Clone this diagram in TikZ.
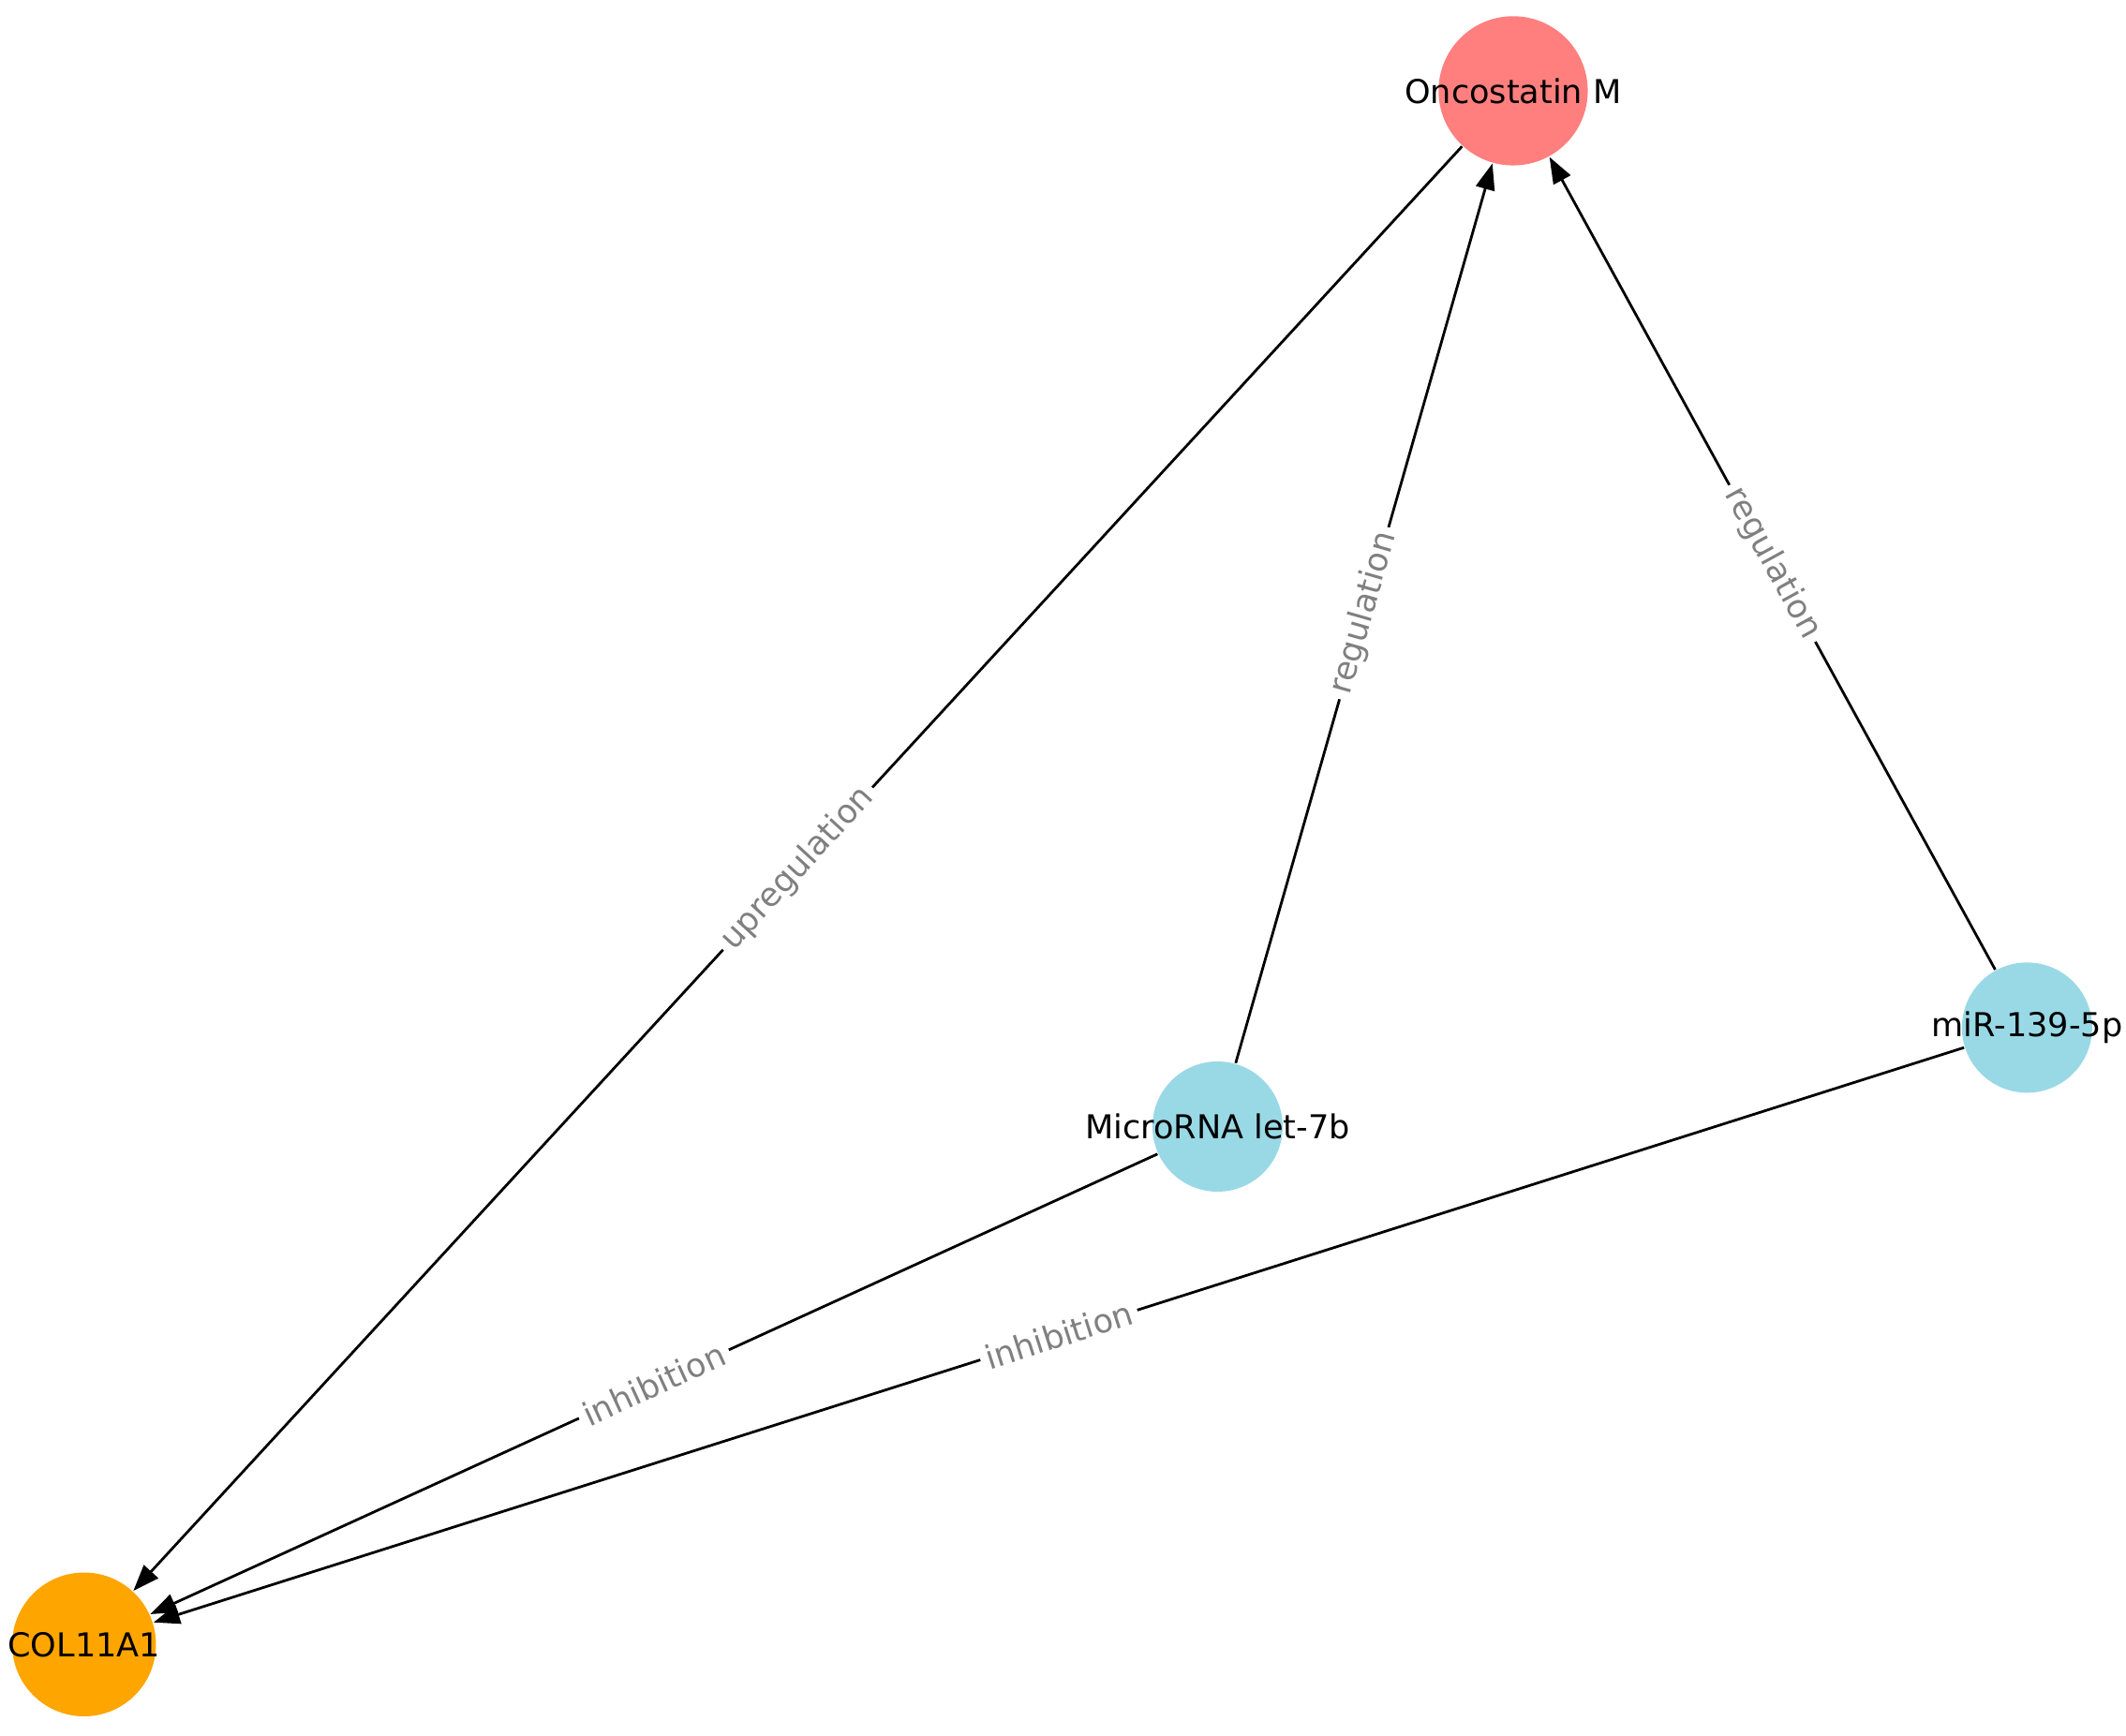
\documentclass[tikz,border=0pt]{standalone}
\usepackage{fontspec}
\setmainfont{DejaVu Sans}
\usetikzlibrary{arrows.meta}
\definecolor{onco}{HTML}{FF7F7F}
\definecolor{mir}{HTML}{99D9E6}
\definecolor{col}{HTML}{FFA500}
\tikzset{
  nd/.style={circle,inner sep=0pt,draw=none},
  tx/.style={inner sep=0pt,font=\fontsize{6.9}{8}\selectfont,text=black},
  ed/.style={-{Triangle[length=5.5pt,width=4pt]},line width=0.55pt,black},
  lb/.style={midway,sloped,fill=white,inner sep=1.2pt,text=gray,font=\fontsize{6.9}{8}\selectfont}
}
\begin{document}
\begin{tikzpicture}[x=0.01cm,y=-0.01cm]
\useasboundingbox (0,0) rectangle (1568,1280);
\node[nd,fill=onco,minimum size=1.1cm] (on) at (1116,67) {};
\node[nd,fill=mir,minimum size=0.96cm] (let) at (898,831) {};
\node[nd,fill=mir,minimum size=0.96cm] (mi) at (1495,758) {};
\node[nd,fill=col,minimum size=1.06cm] (co) at (62,1213) {};
\node[tx] (ton) at (on.center) {Oncostatin M};
\node[tx] (tlet) at (let.center) {MicroRNA let-7b};
\node[tx] (tmi) at (mi.center) {miR-139-5p};
\node[tx] (tco) at (co.center) {COL11A1};
\draw[ed] (on) -- (co) node[lb] {upregulation};
\draw[ed] (let) -- (on) node[lb] {regulation};
\draw[ed] (mi) -- (on) node[lb] {regulation};
\draw[ed] (let) -- (co) node[lb] {inhibition};
\draw[ed] (mi) -- (co) node[lb] {inhibition};
\end{tikzpicture}
\end{document}
